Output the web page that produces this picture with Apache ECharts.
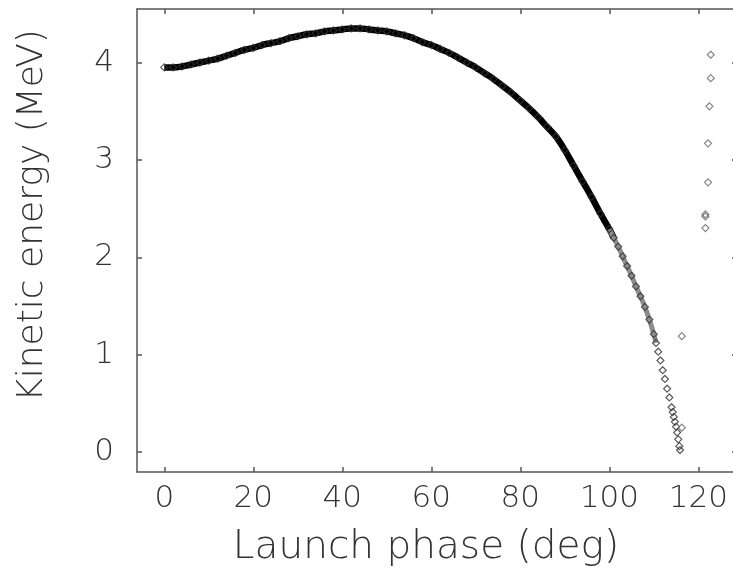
<!DOCTYPE html>
<html>
<head>
<meta charset="utf-8">
<script src="https://cdn.jsdelivr.net/npm/echarts@6/dist/echarts.min.js"></script>
<style>
  html, body { margin: 0; padding: 0; background: #fff; }
  #chart { width: 733px; height: 570px; }
</style>
</head>
<body>
<div id="chart"></div>
<script>
// launch phase (deg) and kinetic energy (MeV)
const curvePhase = [
  0, 2, 4, 6, 8, 10, 12, 14, 16, 18, 20, 22, 24, 26, 28, 30, 32, 34, 36, 38,
  40, 42, 44, 46, 48, 50, 52, 54, 56, 58, 60, 62, 64, 66, 68, 70, 72, 74, 76, 78,
  80, 82, 84, 86, 88, 90, 92, 94, 96, 98, 100, 101, 102, 103, 104, 105, 106, 107, 108, 109,
  110, 110.5, 111, 111.5, 112, 112.5, 113, 113.5, 114, 114.25, 114.5, 114.75, 115, 115.25, 115.5, 115.75, 115.9
]
const curveEnergy = [
  3.95, 3.95, 3.96, 3.98, 4.00, 4.02, 4.04, 4.07, 4.10, 4.13, 4.15, 4.18, 4.20, 4.22, 4.25, 4.27, 4.29, 4.30, 4.32, 4.33,
  4.34, 4.35, 4.35, 4.34, 4.33, 4.32, 4.30, 4.28, 4.25, 4.21, 4.18, 4.14, 4.10, 4.05, 4.00, 3.95, 3.89, 3.83, 3.76, 3.69,
  3.61, 3.53, 3.44, 3.34, 3.24, 3.10, 2.94, 2.78, 2.62, 2.45, 2.29, 2.20, 2.11, 2.01, 1.91, 1.81, 1.70, 1.60, 1.49, 1.36,
  1.21, 1.12, 1.03, 0.94, 0.84, 0.75, 0.65, 0.56, 0.46, 0.41, 0.36, 0.31, 0.26, 0.20, 0.13, 0.06, 0.02
]
// stray particles
const strayPhase = [116.3, 116.3, 122.8, 122.8, 122.5, 122.2, 122.2, 121.6, 121.6, 121.6]
const strayEnergy = [1.19, 0.25, 4.08, 3.84, 3.55, 3.17, 2.77, 2.44, 2.42, 2.30]

const xTicks = [0, 20, 40, 60, 80, 100, 120]
const yTicks = [0, 1, 2, 3, 4]

const pairs = (xs, ys) => xs.map((x, i) => [x, ys[i]])
const curve = pairs(curvePhase, curveEnergy)
const stray = pairs(strayPhase, strayEnergy)

const font = "'DejaVu Sans', sans-serif"
const axisColor = '#555'

const chart = echarts.init(document.getElementById('chart'))

const xBase = {
  type: 'value',
  min: -6.13,
  max: 128.7,
  splitLine: { show: false },
  axisLine: { onZero: false, lineStyle: { color: axisColor, width: 1.5 } },
  axisTick: { inside: true, length: 5, customValues: xTicks, lineStyle: { color: axisColor, width: 1.5 } }
}
const yBase = {
  type: 'value',
  min: -0.2055,
  max: 4.55,
  splitLine: { show: false },
  axisLine: { onZero: false, lineStyle: { color: axisColor, width: 1.5 } },
  axisTick: { inside: true, length: 5, customValues: yTicks, lineStyle: { color: axisColor, width: 1.5 } }
}

chart.setOption({
  animation: false,
  grid: { left: 137, top: 9, right: -4, bottom: 98, outerBoundsMode: 'none' },
  xAxis: [
    {
      ...xBase,
      position: 'bottom',
      axisLabel: { customValues: xTicks, margin: 11, fontSize: 31, fontFamily: font, fontWeight: 200, color: '#333' },
      name: 'Launch phase (deg)',
      nameLocation: 'middle',
      nameGap: 56,
      nameTextStyle: { fontSize: 39, fontFamily: font, fontWeight: 200, color: '#333', padding: [0, 22, 0, 0] }
    },
    {
      ...xBase,
      position: 'top',
      axisLabel: { show: false }
    }
  ],
  yAxis: [
    {
      ...yBase,
      position: 'left',
      axisLabel: { customValues: yTicks, margin: 23, fontSize: 31, fontFamily: font, fontWeight: 200, color: '#333' },
      name: 'Kinetic energy (MeV)',
      nameLocation: 'middle',
      nameGap: 86,
      nameTextStyle: { fontSize: 36, fontFamily: font, fontWeight: 200, color: '#333', padding: [0, 0, 0, 50] }
    },
    {
      ...yBase,
      position: 'right',
      axisLabel: { show: false }
    }
  ],
  series: [
    {
      type: 'line',
      data: curve.filter(p => p[0] <= 101),
      smooth: true,
      showSymbol: false,
      lineStyle: { color: '#000', width: 6.5 },
      z: 2
    },
    {
      type: 'line',
      data: curve.filter(p => p[0] >= 100 && p[0] <= 110.5),
      smooth: true,
      showSymbol: false,
      lineStyle: { color: '#8c8c8c', width: 5 },
      z: 2
    },
    {
      type: 'scatter',
      data: curve,
      symbol: 'diamond',
      symbolSize: 7,
      itemStyle: { color: 'rgba(0,0,0,0)', borderColor: '#333', borderWidth: 1.2 },
      z: 3
    },
    {
      type: 'scatter',
      data: stray,
      symbol: 'diamond',
      symbolSize: 7,
      itemStyle: { color: 'rgba(0,0,0,0)', borderColor: '#666', borderWidth: 1.2 },
      z: 3
    }
  ]
})
</script>
</body>
</html>
